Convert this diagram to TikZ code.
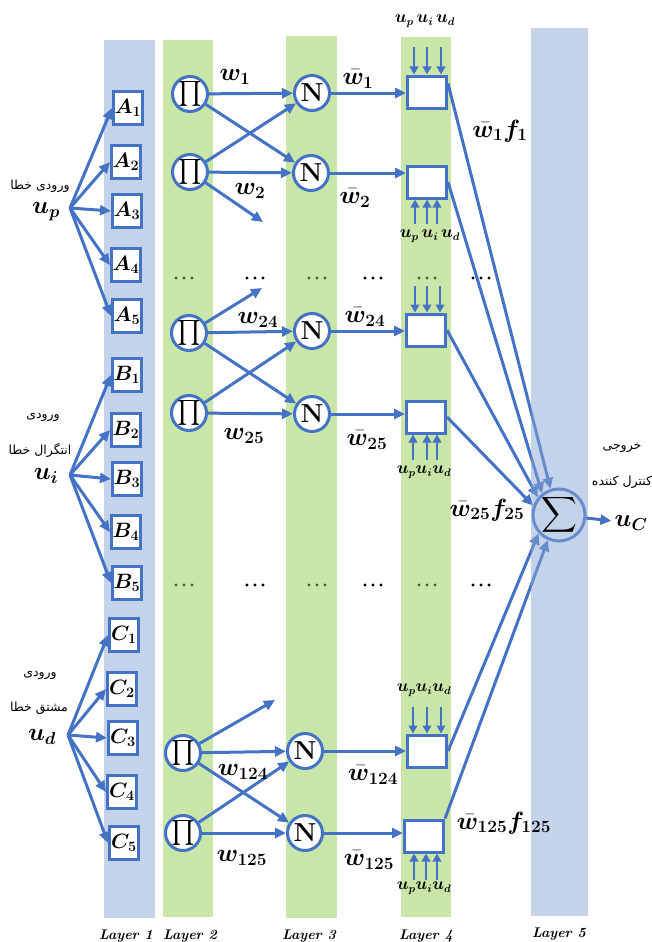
\documentclass[tikz,border=0pt]{standalone}
\usepackage{fontspec}
\usepackage{amsmath}
\usepackage{bm}
\usetikzlibrary{arrows.meta}
\newfontfamily\arabicfont[Script=Arabic]{DejaVu Sans}
\TeXXeTstate=1
\definecolor{bandblue}{HTML}{C5D3EA}
\definecolor{bandblueov}{HTML}{8BA7D5}
\definecolor{bandgreen}{HTML}{C9E6A8}
\definecolor{lineblue}{HTML}{4472C4}
\definecolor{dotgreen}{HTML}{3C6428}
\tikzset{
  conn/.style={draw=lineblue, line width=3pt, -{Triangle[length=11pt,width=10pt]}},
  sarr/.style={draw=lineblue, line width=2.8pt, -{Triangle[length=8pt,width=8.5pt]}},
  mfbox/.style={draw=lineblue, line width=3pt, fill=white, minimum width=29pt, minimum height=33pt, inner sep=0pt, font=\fontsize{20.74}{23}\selectfont},
  rulebox/.style={draw=lineblue, line width=3pt, fill=white, minimum width=39pt, minimum height=32pt, inner sep=0pt},
  prodnode/.style={circle, draw=lineblue, line width=3pt, fill=white, minimum size=35pt, inner sep=0pt, font=\fontsize{27}{29}\selectfont},
  normnode/.style={circle, draw=lineblue, line width=3pt, fill=white, minimum size=35pt, inner sep=0pt, font=\fontsize{26}{28}\selectfont\bfseries},
  lab/.style={font=\fontsize{23}{26}\selectfont, inner sep=0pt},
  slab/.style={font=\fontsize{16}{18}\selectfont, inner sep=0pt},
  arlab/.style={font=\fontsize{12.5}{14}\selectfont\arabicfont, inner sep=0pt},
  layerlab/.style={font=\fontsize{14}{16}\selectfont\bfseries\itshape, inner sep=0pt},
}
\begin{document}
\begin{tikzpicture}[x=1pt,y=-1pt]
\useasboundingbox (0,0) rectangle (652,942);
% bands
\fill[bandblue] (104,40) rectangle (155,918);
\fill[bandgreen] (163,40) rectangle (213,917);
\fill[bandgreen] (286,36) rectangle (337,918);
\fill[bandgreen] (401,37) rectangle (451,917);
% layer labels
\node[layerlab] (L1) at (126,936) {Layer 1};
\node[layerlab] (L2) at (190,936) {Layer 2};
\node[layerlab] (L3) at (309,936) {Layer 3};
\node[layerlab] (L4) at (426,936) {Layer 4};
\node[layerlab] (L5) at (559,934) {Layer 5};
% dots
\foreach \x/\c in {184/dotgreen,255/black,317/dotgreen,373/black,427/dotgreen,481/black}
  \foreach \y in {278,585}
    \foreach \d in {-8,0,8}
      \fill[\c] (\x+\d,\y) circle (1.7pt);
% inputs
\coordinate (up) at (70,208);
\coordinate (ui) at (70,475);
\coordinate (ud) at (68,735);
\node[lab] (upl) at (46,212) {$\bm{u_p}$};
\node[lab] (uil) at (46,476) {$\bm{u_i}$};
\node[lab] (udl) at (42,737) {$\bm{u_d}$};
\node[arlab] (t1) at (40,186) {\beginR ورودی خطا\endR};
\node[arlab] (t2) at (43,417) {\beginR ورودی\endR};
\node[arlab] (t3) at (40,450) {\beginR انتگرال خطا\endR};
\node[arlab] (t4) at (40,675) {\beginR ورودی\endR};
\node[arlab] (t5) at (39,708) {\beginR مشتق خطا\endR};
% layer 1
\node[mfbox] (A1) at (128,108) {$\bm{A_1}$};
\node[mfbox] (A2) at (126,162) {$\bm{A_2}$};
\node[mfbox] (A3) at (127,211) {$\bm{A_3}$};
\node[mfbox] (A4) at (126,265) {$\bm{A_4}$};
\node[mfbox] (A5) at (127,316) {$\bm{A_5}$};
\node[mfbox] (B1) at (127,375) {$\bm{B_1}$};
\node[mfbox] (B2) at (126,430) {$\bm{B_2}$};
\node[mfbox] (B3) at (127,479) {$\bm{B_3}$};
\node[mfbox] (B4) at (126,532) {$\bm{B_4}$};
\node[mfbox] (B5) at (127,583) {$\bm{B_5}$};
\node[mfbox] (C1) at (124,635) {$\bm{C_1}$};
\node[mfbox] (C2) at (122,689) {$\bm{C_2}$};
\node[mfbox] (C3) at (123,738) {$\bm{C_3}$};
\node[mfbox] (C4) at (122,792) {$\bm{C_4}$};
\node[mfbox] (C5) at (124,843) {$\bm{C_5}$};
\foreach \n in {A1,A2,A3,A4,A5} \draw[conn] (up) -- (\n.west);
\foreach \n in {B1,B2,B3,B4,B5} \draw[conn] (ui) -- (\n.west);
\foreach \n in {C1,C2,C3,C4,C5} \draw[conn] (ud) -- (\n.west);
% layer 2 and 3
\node[prodnode] (P1) at (190,94) {$\textstyle\prod$};
\node[prodnode] (P2) at (190,172) {$\textstyle\prod$};
\node[prodnode] (P3) at (189,333) {$\textstyle\prod$};
\node[prodnode] (P4) at (189,413) {$\textstyle\prod$};
\node[prodnode] (P5) at (183,753) {$\textstyle\prod$};
\node[prodnode] (P6) at (183,833) {$\textstyle\prod$};
\node[normnode] (N1) at (312,93) {N};
\node[normnode] (N2) at (311,173) {N};
\node[normnode] (N3) at (312,331) {N};
\node[normnode] (N4) at (312,414) {N};
\node[normnode] (N5) at (305,751) {N};
\node[normnode] (N6) at (305,833) {N};
\coordinate (d2) at (263,222);
\coordinate (d3) at (262,288);
\coordinate (d5) at (275,700);
\draw[conn] (P1) -- (N1);
\draw[conn] (P1) -- (N2);
\draw[conn] (P2) -- (N1);
\draw[conn] (P2) -- (N2);
\draw[conn] (P2) -- (d2);
\draw[conn] (P3) -- (d3);
\draw[conn] (P3) -- (N3);
\draw[conn] (P3) -- (N4);
\draw[conn] (P4) -- (N3);
\draw[conn] (P4) -- (N4);
\draw[conn] (P5) -- (d5);
\draw[conn] (P5) -- (N5);
\draw[conn] (P5) -- (N6);
\draw[conn] (P6) -- (N5);
\draw[conn] (P6) -- (N6);
\node[lab] (w1) at (235,77) {$\bm{w_{1}}$};
\node[lab] (w2) at (250,191) {$\bm{w_{2}}$};
\node[lab] (w24) at (258,320) {$\bm{w_{24}}$};
\node[lab] (w25) at (244,436) {$\bm{w_{25}}$};
\node[lab] (w124) at (243,772) {$\bm{w_{124}}$};
\node[lab] (w125) at (242,858) {$\bm{w_{125}}$};
% layer 4
\node[rulebox] (F1) at (427,92) {};
\node[rulebox] (F2) at (427,182) {};
\node[rulebox] (F3) at (426,330) {};
\node[rulebox] (F4) at (426,417) {};
\node[rulebox] (F5) at (427,751) {};
\node[rulebox] (F6) at (424,836) {};
\draw[conn] (N1 -| N1.east) -- (N1 -| F1.west);
\draw[conn] (N2 -| N2.east) -- (N2 -| F2.west);
\draw[conn] (N3 -| N3.east) -- (N3 -| F3.west);
\draw[conn] (N4 -| N4.east) -- (N4 -| F4.west);
\draw[conn] (N5 -| N5.east) -- (N5 -| F5.west);
\draw[conn] (N6 -| N6.east) -- (N6 -| F6.west);
\node[lab] (wb1) at (358,79) {$\bm{\bar w_{1}}$};
\node[lab] (wb2) at (355,198) {$\bm{\bar w_{2}}$};
\node[lab] (wb24) at (365,317) {$\bm{\bar w_{24}}$};
\node[lab] (wb25) at (367,440) {$\bm{\bar w_{25}}$};
\node[lab] (wb124) at (373,775) {$\bm{\bar w_{124}}$};
\node[lab] (wb125) at (369,860) {$\bm{\bar w_{125}}$};
% small input arrows of layer 4
\foreach \dx in {-13,0,14} \draw[sarr] ([xshift=\dx pt,yshift=27pt]F1.north) -- ([xshift=\dx pt]F1.north);
\foreach \dx in {-12,0,10} \draw[sarr] ([xshift=\dx pt,yshift=-24pt]F2.south) -- ([xshift=\dx pt]F2.south);
\foreach \dx in {-11,1,14} \draw[sarr] ([xshift=\dx pt,yshift=27pt]F3.north) -- ([xshift=\dx pt]F3.north);
\foreach \dx in {-13,1,11} \draw[sarr] ([xshift=\dx pt,yshift=-25pt]F4.south) -- ([xshift=\dx pt]F4.south);
\foreach \dx in {-14,0,14} \draw[sarr] ([xshift=\dx pt,yshift=27pt]F5.north) -- ([xshift=\dx pt]F5.north);
\foreach \dx in {-10,2,13} \draw[sarr] ([xshift=\dx pt,yshift=-26pt]F6.south) -- ([xshift=\dx pt]F6.south);
\node[slab] (u1) at (425,21) {$\bm{u_p\,u_i\,u_d}$};
\node[slab] (u2) at (430,236) {$\bm{u_p\,u_i\,u_d}$};
\node[slab] (u4) at (424,472) {$\bm{u_pu_iu_d}$};
\node[slab] (u5) at (424,690) {$\bm{u_pu_iu_d}$};
\node[slab] (u6) at (424,888) {$\bm{u_pu_iu_d}$};
% layer 5
\node[circle, draw=lineblue, line width=3pt, fill=white, minimum size=52pt, inner sep=0pt] (S) at (559,515) {};
\draw[conn] ([yshift=-9pt]F1.north east) -- (S.108);
\draw[conn] (F2.east) -- (S.128);
\draw[conn] (F3.east) -- (S.140);
\draw[conn] (F4.east) -- (S.160);
\draw[conn] (F5.east) -- (S.222);
\draw[conn] (F6.north east) -- (S.246);
\fill[bandblueov, fill opacity=0.5] (531,28) rectangle (588,916);
\node[font=\fontsize{23}{25}\selectfont, inner sep=0pt] (Ssym) at (S) {$\displaystyle\sum$};
\node[lab, inner sep=3pt] (uC) at (631,523) {$\bm{u_C}$};
\draw[conn] (S) -- (uC);
\node[lab] (o1) at (500,131) {$\bm{\bar w_{1} f_{1}}$};
\node[lab] (o25) at (487,510) {$\bm{\bar w_{25} f_{25}}$};
\node[lab] (o125) at (504,823) {$\bm{\bar w_{125} f_{125}}$};
\node[arlab] (t6) at (622,448) {\beginR خروجی\endR};
\node[arlab] (t7) at (622,482) {\beginR کنترل کننده\endR};
\end{tikzpicture}
\end{document}
